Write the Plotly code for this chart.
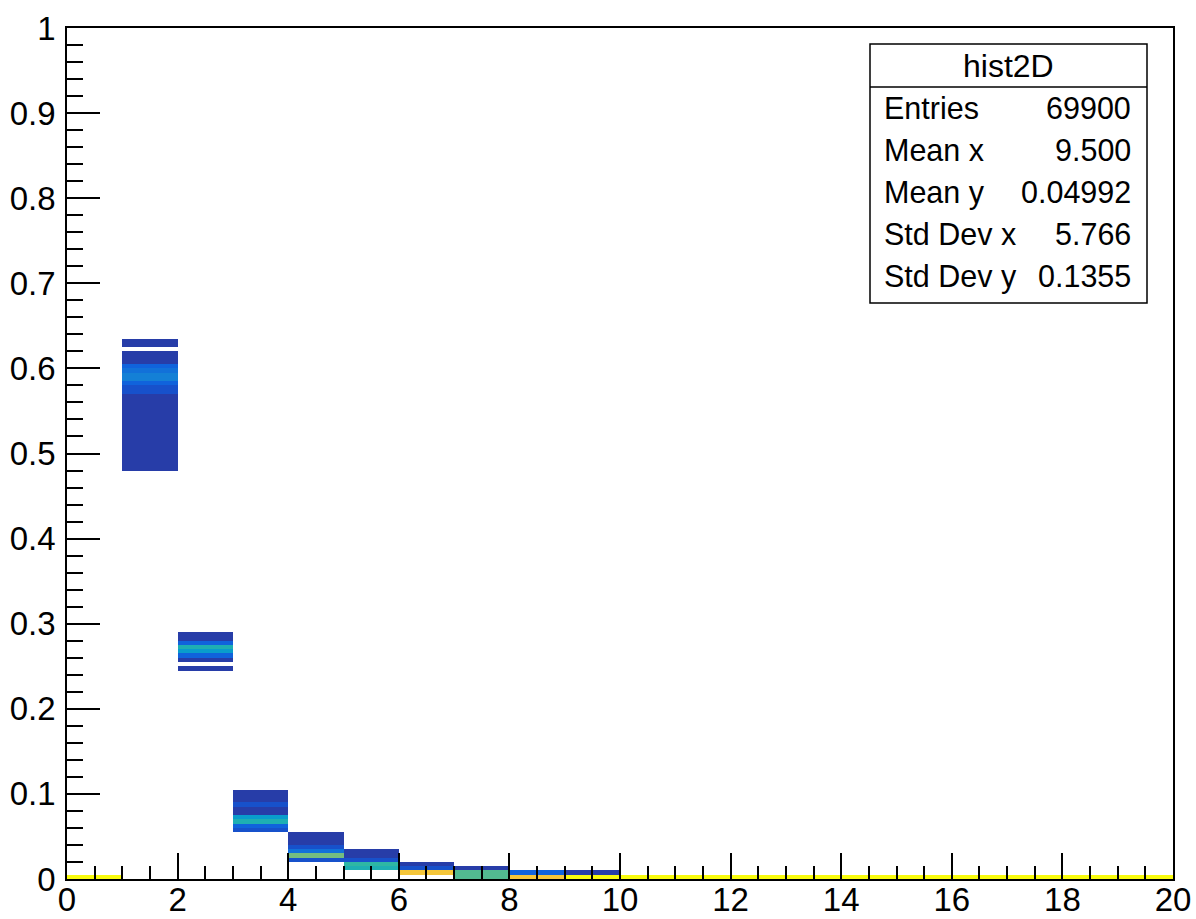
import numpy as np
import plotly.graph_objects as go

# ---------------- data ----------------
n_xbins = 20
n_ybins = 200
x_low, x_high = 0.0, 20.0
y_low, y_high = 0.0, 1.0

# counts per x-bin: first occupied y-bin index and the counts upward from it
col_start = [0, 96, 49, 11, 4, 2, 1, 0, 0, 0,
             0, 0, 0, 0, 0, 0, 0, 0, 0, 0]
col_counts = [
    [3495],
    [15, 14, 16, 15, 13, 15, 16, 14, 15, 15, 16, 14, 15, 15, 14, 16, 15, 15,
     190, 190, 370, 720, 720, 540, 370, 30, 30, 30, 0, 20, 20],
    [40, 0, 100, 400, 1100, 1500, 400, 60, 60],
    [250, 450, 1500, 1200, 40, 40, 200, 40, 40, 40],
    [250, 2050, 600, 250, 60, 60, 60],
    [1450, 1650, 250, 70, 70],
    [2900, 250, 95],
    [1750, 1750, 95],
    [2950, 500],
    [3400, 95],
    [3495], [3495], [3495], [3495], [3495],
    [3495], [3495], [3495], [3495], [3495],
]
z_max = 3495

hist_name = "hist2D"
stat_labels = ["Entries", "Mean x", "Mean y", "Std Dev x", "Std Dev y"]
stat_values = ["69900", "9.500", "0.04992", "5.766", "0.1355"]

# ---------------- build matrix ----------------
z = [[None] * n_xbins for _ in range(n_ybins)]
for ix in range(n_xbins):
    for j, c in enumerate(col_counts[ix]):
        if c > 0:
            z[col_start[ix] + j][ix] = c

x_edges = np.linspace(x_low, x_high, n_xbins + 1)
y_edges = np.linspace(y_low, y_high, n_ybins + 1)

# ROOT kBird palette, 20 contour levels (COL)
b_stops = [0.0, 0.125, 0.25, 0.375, 0.5, 0.625, 0.75, 0.875, 1.0]
b_red = [0.2082, 0.0592, 0.0780, 0.0232, 0.1802, 0.5301, 0.8186, 0.9956, 0.9764]
b_green = [0.1664, 0.3599, 0.5041, 0.6419, 0.7178, 0.7492, 0.7328, 0.7862, 0.9832]
b_blue = [0.5293, 0.8684, 0.8385, 0.7914, 0.6425, 0.4662, 0.3499, 0.1968, 0.0539]


def bird(f):
    r = np.interp(f, b_stops, b_red)
    g = np.interp(f, b_stops, b_green)
    b = np.interp(f, b_stops, b_blue)
    return "rgb(%d,%d,%d)" % (round(r * 255), round(g * 255), round(b * 255))


n_levels = 20
ncol = 255
colorscale = []
for i in range(n_levels):
    idx = int((i + 0.99) * ncol / n_levels)
    c = bird(idx / (ncol - 1))
    colorscale.append([i / n_levels, c])
    colorscale.append([(i + 1) / n_levels, c])

fig = go.Figure()
fig.add_trace(go.Heatmap(
    x=x_edges, y=y_edges, z=z,
    colorscale=colorscale, zmin=0, zmax=z_max,
    showscale=False, hoverongaps=False, zsmooth=False,
))

# ---------------- layout ----------------
W, H = 1196, 919
L, R, T, B = 67, 23, 28, 40
pw, ph = W - L - R, H - T - B

font_family = "Liberation Sans, Arial, Helvetica, sans-serif"

fig.update_layout(
    width=W, height=H,
    margin=dict(l=L, r=R, t=T, b=B),
    paper_bgcolor="white", plot_bgcolor="white",
    showlegend=False,
    font=dict(family=font_family, size=30, color="black"),
    xaxis=dict(
        range=[x_low, x_high], showgrid=False, zeroline=False, automargin=False,
        showline=True, linecolor="black", linewidth=1.5, mirror=True,
        ticks="inside", ticklen=26, tickwidth=1.5, tickcolor="black",
        dtick=2, tick0=0,
        minor=dict(ticks="inside", ticklen=13, dtick=0.5, tickwidth=1.5,
                   tickcolor="black", showgrid=False),
        tickfont=dict(size=33, family=font_family, color="black"),
        ticklabelstandoff=-9,
    ),
    yaxis=dict(
        range=[y_low, y_high], showgrid=False, zeroline=False, automargin=False,
        showline=True, linecolor="black", linewidth=1.5, mirror=True,
        ticks="inside", ticklen=33, tickwidth=1.5, tickcolor="black",
        dtick=0.1, tick0=0,
        minor=dict(ticks="inside", ticklen=16, dtick=0.02, tickwidth=1.5,
                   tickcolor="black", showgrid=False),
        tickfont=dict(size=33, family=font_family, color="black"),
        ticklabelstandoff=3,
    ),
)


def px2x(px):
    return (px - L) / pw


def px2y(py):
    return (H - B - py) / ph


box_l, box_r, box_t, box_b = 870, 1147, 44, 303
div_y = 87
fig.add_shape(type="rect", xref="paper", yref="paper",
              x0=px2x(box_l), x1=px2x(box_r), y0=px2y(box_b), y1=px2y(box_t),
              fillcolor="white", line=dict(color="black", width=1.5), layer="above")
fig.add_shape(type="line", xref="paper", yref="paper",
              x0=px2x(box_l), x1=px2x(box_r), y0=px2y(div_y), y1=px2y(div_y),
              line=dict(color="black", width=1.5), layer="above")

fig.add_annotation(xref="paper", yref="paper", x=px2x((box_l + box_r) / 2),
                   y=px2y(66), text=hist_name, showarrow=False,
                   xanchor="center", yanchor="middle",
                   font=dict(size=32, family=font_family, color="black"))

row_y = [108, 150, 192, 234, 276]
for lab, val, ry in zip(stat_labels, stat_values, row_y):
    fig.add_annotation(xref="paper", yref="paper", x=px2x(882), y=px2y(ry),
                       text=lab, showarrow=False, xanchor="left", yanchor="middle",
                       font=dict(size=30.5, family=font_family, color="black"))
    fig.add_annotation(xref="paper", yref="paper", x=px2x(1133), y=px2y(ry),
                       text=val, showarrow=False, xanchor="right", yanchor="middle",
                       font=dict(size=30.5, family=font_family, color="black"))

fig.write_html("out.html")
